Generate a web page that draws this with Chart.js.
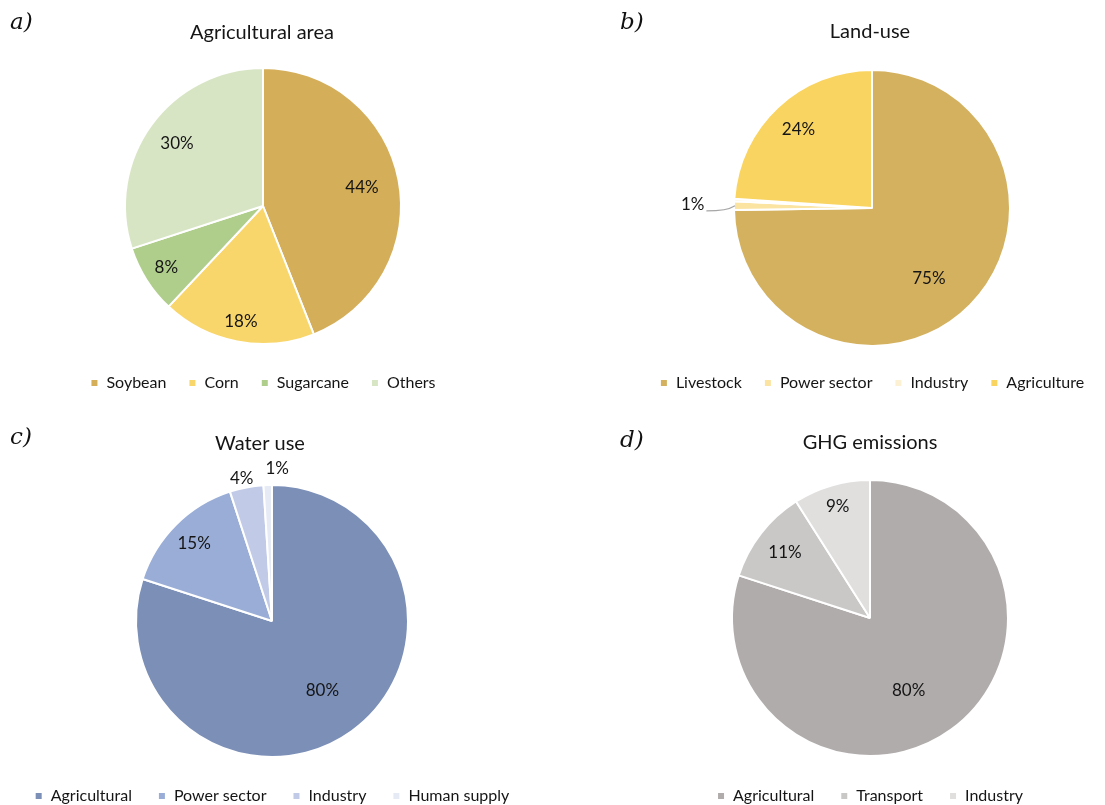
<!DOCTYPE html>
<html>
<head>
<meta charset="utf-8">
<title>Resource use shares</title>
<script src="https://cdn.jsdelivr.net/npm/chart.js@4/dist/chart.umd.min.js"></script>
<style>
  html, body { margin: 0; padding: 0; background: #fff; overflow: hidden; }
  #page { position: relative; width: 1105px; height: 805px; overflow: hidden; background: #fff; }
  #page canvas { position: absolute; }
  .tag {
    position: absolute;
    font-family: "DejaVu Serif", "Liberation Serif", serif;
    font-style: italic;
    font-size: 23px;
    line-height: 24px;
    color: #111;
  }
</style>
</head>
<body>
<div id="page">
  <canvas id="chartArea" width="600" height="401" style="left:-37px;top:0px"></canvas>
  <canvas id="chartLand" width="600" height="401" style="left:572px;top:0px"></canvas>
  <canvas id="chartWater" width="600" height="414" style="left:-28px;top:400px"></canvas>
  <canvas id="chartGhg" width="600" height="414" style="left:570px;top:400px"></canvas>
  <div class="tag" style="left:10px;top:9px">a)</div>
  <div class="tag" style="left:620px;top:9px">b)</div>
  <div class="tag" style="left:10px;top:424px">c)</div>
  <div class="tag" style="left:620px;top:427px">d)</div>
</div>
<script>
// Shares (%) per category
const areaLabels = ['Soybean', 'Corn', 'Sugarcane', 'Others'];
const areaValues = [44, 18, 8, 30];
const areaColors = ['#D5AE59', '#F9D66B', '#AFCD8B', '#D8E5C5'];

const landLabels = ['Livestock', 'Power sector', 'Industry', 'Agriculture'];
const landValues = [75, 1, 0.3, 24];
const landColors = ['#D4B15E', '#FBE4A2', '#FDF1D3', '#F9D461'];

const waterLabels = ['Agricultural', 'Power sector', 'Industry', 'Human supply'];
const waterValues = [80, 15, 4, 1];
const waterColors = ['#7B8FB7', '#99ADD7', '#C1CBE8', '#E5EAF5'];

const ghgLabels = ['Agricultural', 'Transport', 'Industry'];
const ghgValues = [80, 11, 9];
const ghgColors = ['#B0ACAB', '#CAC8C7', '#E0DFDE'];

const FONT = 'Lato, "Open Sans", sans-serif';
const INK = '#151515';

function makePie(canvasId, labels, values, colors, look) {
  // Heading drawn above the pie, shifted horizontally by look.titleDx
  const headingPlugin = {
    id: 'heading',
    afterDraw(chart) {
      const ctx = chart.ctx;
      const area = chart.chartArea;
      ctx.save();
      ctx.font = '20px ' + FONT;
      ctx.fillStyle = INK;
      ctx.textAlign = 'center';
      ctx.textBaseline = 'middle';
      ctx.fillText(look.title, (area.left + area.right) / 2 + look.titleDx, look.titleY);
      ctx.restore();
    }
  };

  // Percentage labels placed along each slice's mid angle
  const percentPlugin = {
    id: 'percentLabels',
    afterDatasetsDraw(chart) {
      const ctx = chart.ctx;
      const meta = chart.getDatasetMeta(0);
      const data = chart.data.datasets[0].data;
      ctx.save();
      ctx.font = '17px ' + FONT;
      ctx.fillStyle = INK;
      ctx.textAlign = 'center';
      ctx.textBaseline = 'middle';
      meta.data.forEach((arc, i) => {
        const v = data[i];
        if (v < 0.5) return;
        const p = arc.getProps(['x', 'y', 'startAngle', 'endAngle', 'outerRadius'], true);
        const mid = (p.startAngle + p.endAngle) / 2;
        const f = look.labelDist[i];
        const nudge = (look.labelNudge && look.labelNudge[i]) || [0, 0];
        const lx = p.x + Math.cos(mid) * p.outerRadius * f + nudge[0];
        const ly = p.y + Math.sin(mid) * p.outerRadius * f + nudge[1];
        const text = v + '%';
        ctx.fillText(text, lx, ly);
        if (look.leader && look.leader[i]) {
          const w = ctx.measureText(text).width;
          const ex = p.x + Math.cos(mid) * (p.outerRadius - 1);
          const ey = p.y + Math.sin(mid) * (p.outerRadius - 1);
          ctx.beginPath();
          ctx.strokeStyle = '#A6A6A6';
          ctx.lineWidth = 1.2;
          ctx.moveTo(lx + w / 2 + 2, ly + 6);
          ctx.quadraticCurveTo(ex - 8, ly + 6, ex, ey);
          ctx.stroke();
        }
      });
      ctx.restore();
    }
  };

  return new Chart(document.getElementById(canvasId), {
    type: 'pie',
    data: {
      labels: labels,
      datasets: [{
        data: values,
        backgroundColor: colors,
        borderColor: '#FFFFFF',
        borderWidth: 2
      }]
    },
    options: {
      responsive: false,
      animation: false,
      radius: look.radius,
      layout: { padding: { top: look.top } },
      plugins: {
        legend: {
          position: 'bottom',
          labels: {
            boxWidth: 8,
            boxHeight: 8,
            padding: look.legendGap,
            color: INK,
            font: { family: FONT, size: 16 }
          }
        },
        title: { display: false },
        tooltip: { enabled: false }
      }
    },
    plugins: [headingPlugin, percentPlugin]
  });
}

makePie('chartArea', areaLabels, areaValues, areaColors, {
  title: 'Agricultural area', titleDx: -1, titleY: 33,
  radius: 138, top: 59, legendGap: 22,
  labelDist: [0.73, 0.855, 0.83, 0.77]
});

makePie('chartLand', landLabels, landValues, landColors, {
  title: 'Land-use', titleDx: -2, titleY: 32,
  radius: 138, top: 63, legendGap: 22,
  labelDist: [0.66, 1.30, 0, 0.78],
  labelNudge: [[-8, 7], [0, 0], [0, 0], [0, 0]],
  leader: [false, true, false, false]
});

makePie('chartWater', waterLabels, waterValues, waterColors, {
  title: 'Water use', titleDx: -12, titleY: 44,
  radius: 136, top: 80, legendGap: 26,
  labelDist: [0.63, 0.81, 1.07, 1.12],
  labelNudge: [[0, 0], [0, 0], [-3, 0], [10, 0]]
});

makePie('chartGhg', ghgLabels, ghgValues, ghgColors, {
  title: 'GHG emissions', titleDx: 0, titleY: 43,
  radius: 138, top: 74, legendGap: 26,
  labelDist: [0.6, 0.78, 0.84],
  labelNudge: [[-10, 6], [0, 0], [0, 0]]
});
</script>
</body>
</html>
